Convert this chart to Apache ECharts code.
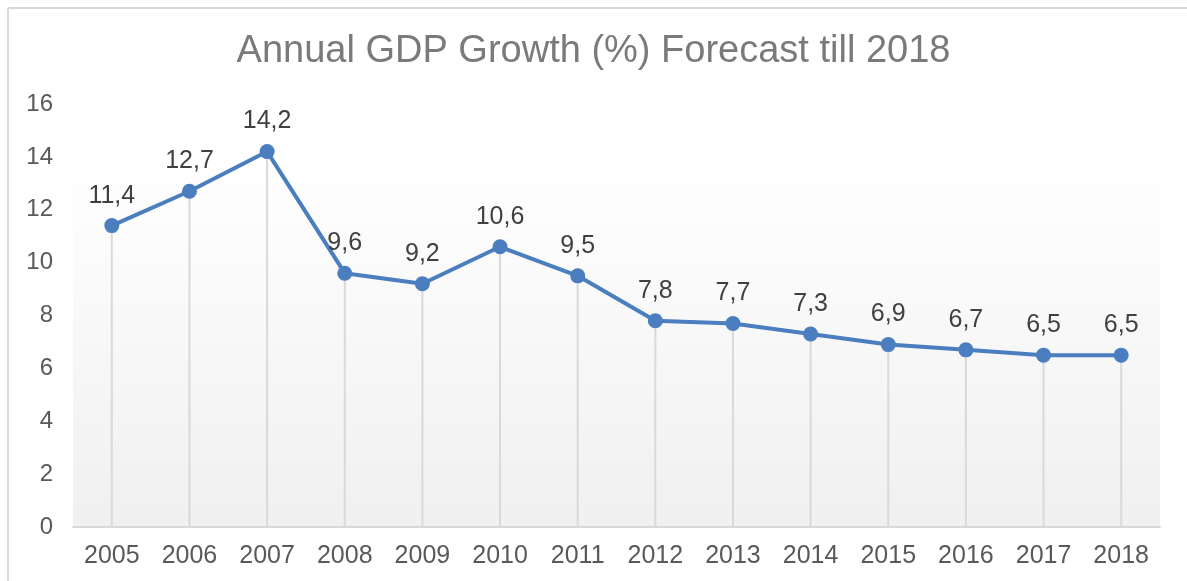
<!DOCTYPE html>
<html>
<head>
<meta charset="utf-8">
<script src="https://cdn.jsdelivr.net/npm/echarts@6/dist/echarts.min.js"></script>
<style>
  html, body { margin: 0; padding: 0; background: #fff; }
  #chart { width: 1187px; height: 581px; }
</style>
</head>
<body>
<div id="chart"></div>
<script>
var years = ['2005', '2006', '2007', '2008', '2009', '2010', '2011', '2012', '2013', '2014', '2015', '2016', '2017', '2018'];
var growth = [11.4, 12.7, 14.2, 9.6, 9.2, 10.6, 9.5, 7.8, 7.7, 7.3, 6.9, 6.7, 6.5, 6.5];
var yTicks = { min: 0, max: 16, step: 2 };

var myChart = echarts.init(document.getElementById('chart'));

var option = {
  backgroundColor: '#fff',
  animation: false,
  title: {
    text: 'Annual GDP Growth (%) Forecast till 2018',
    left: 'center',
    top: 28,
    textStyle: {
      color: '#7a7a7a',
      fontFamily: 'Liberation Sans',
      fontSize: 38,
      fontWeight: 'normal'
    }
  },
  graphic: [
    { type: 'line', shape: { x1: 8, y1: 8, x2: 1187, y2: 8 }, style: { stroke: '#d9d9d9', lineWidth: 2 } },
    { type: 'line', shape: { x1: 8, y1: 8, x2: 8, y2: 581 }, style: { stroke: '#d9d9d9', lineWidth: 2 } }
  ],
  grid: {
    left: 73,
    right: 27,
    top: 104,
    bottom: 54,
    show: true,
    borderWidth: 0,
    backgroundColor: new echarts.graphic.LinearGradient(0, 0, 0, 1, [
      { offset: 0, color: '#ffffff' },
      { offset: 0.12, color: '#ffffff' },
      { offset: 1, color: '#f0f0f0' }
    ])
  },
  xAxis: {
    type: 'category',
    data: years,
    boundaryGap: true,
    axisLine: { lineStyle: { color: '#d9d9d9', width: 2 } },
    axisTick: { show: false },
    axisLabel: {
      color: '#595959',
      fontFamily: 'Liberation Sans',
      fontSize: 25,
      margin: 17
    },
    splitLine: { show: false }
  },
  yAxis: {
    type: 'value',
    min: yTicks.min,
    max: yTicks.max,
    interval: yTicks.step,
    axisLine: { show: false },
    axisTick: { show: false },
    axisLabel: {
      color: '#595959',
      fontFamily: 'Liberation Sans',
      fontSize: 24,
      margin: 20
    },
    splitLine: { show: false }
  },
  series: [
    {
      // drop lines
      type: 'bar',
      data: growth,
      barWidth: 2,
      itemStyle: { color: '#d9d9d9' },
      silent: true,
      z: 1
    },
    {
      type: 'line',
      data: growth,
      symbol: 'circle',
      symbolSize: 15,
      lineStyle: { color: '#4a7ebf', width: 4 },
      itemStyle: { color: '#4a7ebf' },
      label: {
        show: true,
        position: 'top',
        distance: 10,
        color: '#404040',
        fontFamily: 'Liberation Sans',
        fontSize: 25,
        formatter: function (p) { return String(p.value).replace('.', ','); }
      },
      z: 3
    }
  ]
};

myChart.setOption(option);
</script>
</body>
</html>
